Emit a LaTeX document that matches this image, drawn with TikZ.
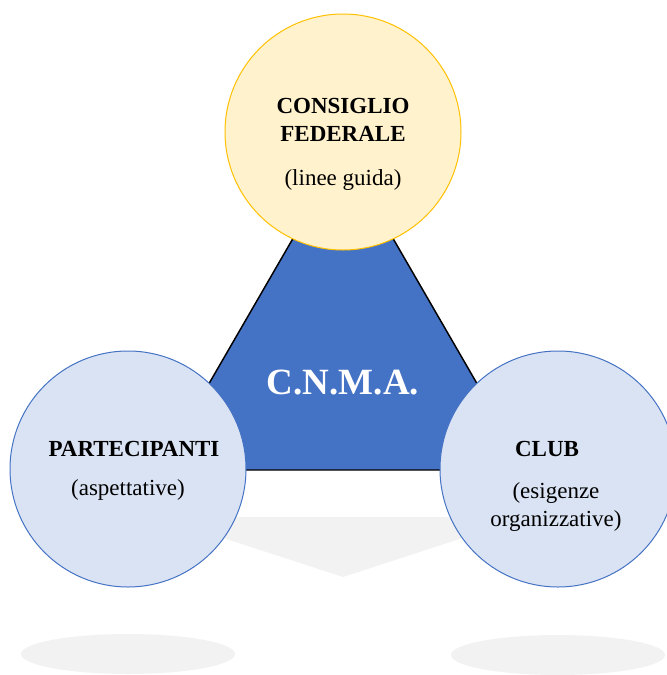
\documentclass[tikz,border=0pt]{standalone}
\usepackage{fontspec}
\setmainfont{Liberation Serif}

\definecolor{cnmablue}{RGB}{68,114,196}
\definecolor{clubfill}{RGB}{218,227,243}
\definecolor{federfill}{RGB}{255,242,204}
\definecolor{federline}{RGB}{255,192,0}
\definecolor{shadowgray}{RGB}{242,242,242}

\tikzset{every picture/.style={line width=0.75pt}}
\tikzset{
  roundbox/.style={circle, minimum size=177pt, inner sep=0pt, line width=0.75pt},
  title/.style={font=\fontsize{17.25}{21}\selectfont\bfseries, align=center, inner sep=0.75pt},
  subtitle/.style={font=\fontsize{17.25}{20.5}\selectfont, align=center, inner sep=0.75pt}
}

\begin{document}
\begin{tikzpicture}[x=0.75pt,y=0.75pt,yscale=-1,xscale=1]
\useasboundingbox (0,0) rectangle (667,675);

%Shape: Ellipse (shadows)
\fill [shadowgray] (128,654) ellipse (107 and 20);
\fill [shadowgray] (558,655) ellipse (107 and 20);
%Shape: Triangle (reflection)
\fill [shadowgray] (159,517) -- (527,517) -- (343,577) -- cycle ;
%Shape: Triangle
\draw [fill=cnmablue, line width=1.1pt] (343,152) -- (527,470) -- (159,470) -- cycle ;

%Shape: Circle
\node [roundbox, draw=federline, fill=federfill] (federale) at (343,132) {};
%Shape: Circle
\node [roundbox, draw=cnmablue, fill=clubfill] (partecipanti) at (128,469) {};
%Shape: Circle
\node [roundbox, draw=cnmablue, fill=clubfill] (club) at (558,469) {};

% Text Node
\node [title] (federaletitle) at (343,120) {CONSIGLIO\\FEDERALE};
% Text Node
\node [subtitle] (federalesub) at (343,180) {(linee guida)};
% Text Node
\node [font=\fontsize{27.75}{30}\selectfont\bfseries, text=white, inner sep=0.75pt] (cnma) at (343,383) {C.N.M.A.};
% Text Node
\node [title] (partecipantititle) at (134,449) {PARTECIPANTI};
% Text Node
\node [subtitle] (partecipantisub) at (128,490) {(aspettative)};
% Text Node
\node [title] (clubtitle) at (547,449) {CLUB};
% Text Node
\node [subtitle] (clubsub) at (556,507) {(esigenze\\organizzative)};

\end{tikzpicture}
\end{document}
